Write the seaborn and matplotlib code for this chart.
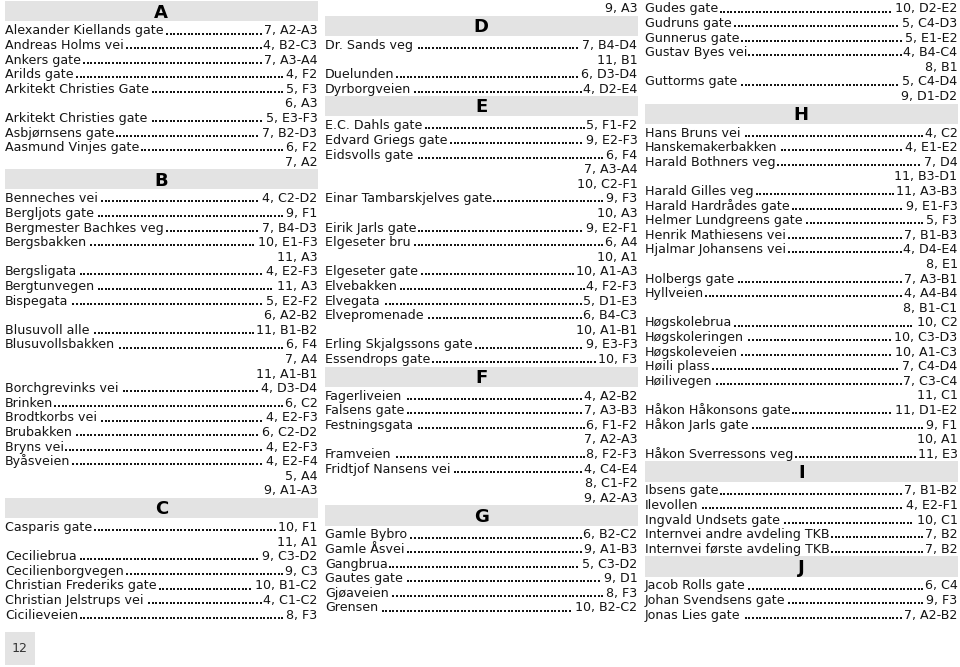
import numpy as np
import pandas as pd
import matplotlib
matplotlib.use("Agg")
import matplotlib.pyplot as plt
import seaborn as sns


# street index data, one pair of lists per letter
A_NAMES = ["Alexander Kiellands gate", "Andreas Holms vei", "Ankers gate", "Arilds gate",
           "Arkitekt Christies Gate", "Arkitekt Christies gate", "Asbjørnsens gate",
           "Aasmund Vinjes gate"]
A_REFS = [["7, A2-A3"], ["4, B2-C3"], ["7, A3-A4"], ["4, F2"], ["5, F3", "6, A3"],
          ["5, E3-F3"], ["7, B2-D3"], ["6, F2", "7, A2"]]

B_NAMES = ["Benneches vei", "Bergljots gate", "Bergmester Bachkes veg", "Bergsbakken",
           "Bergsligata", "Bergtunvegen", "Bispegata", "Blusuvoll alle", "Blusuvollsbakken",
           "Borchgrevinks vei", "Brinken", "Brodtkorbs vei", "Brubakken", "Bryns vei",
           "Byåsveien"]
B_REFS = [["4, C2-D2"], ["9, F1"], ["7, B4-D3"], ["10, E1-F3", "11, A3"], ["4, E2-F3"],
          ["11, A3"], ["5, E2-F2", "6, A2-B2"], ["11, B1-B2"], ["6, F4", "7, A4", "11, A1-B1"],
          ["4, D3-D4"], ["6, C2"], ["4, E2-F3"], ["6, C2-D2"], ["4, E2-F3"],
          ["4, E2-F4", "5, A4", "9, A1-A3"]]

C_NAMES = ["Casparis gate", "Ceciliebrua", "Cecilienborgvegen", "Christian Frederiks gate",
           "Christian Jelstrups vei", "Cicilieveien"]
C_REFS = [["10, F1", "11, A1"], ["9, C3-D2"], ["9, C3"], ["10, B1-C2"], ["4, C1-C2"],
          ["8, F3", "9, A3"]]

D_NAMES = ["Dr. Sands veg", "Duelunden", "Dyrborgveien"]
D_REFS = [["7, B4-D4", "11, B1"], ["6, D3-D4"], ["4, D2-E4"]]

E_NAMES = ["E.C. Dahls gate", "Edvard Griegs gate", "Eidsvolls gate", "Einar Tambarskjelves gate",
           "Eirik Jarls gate", "Elgeseter bru", "Elgeseter gate", "Elvebakken", "Elvegata",
           "Elvepromenade", "Erling Skjalgssons gate", "Essendrops gate"]
E_REFS = [["5, F1-F2"], ["9, E2-F3"], ["6, F4", "7, A3-A4", "10, C2-F1"], ["9, F3", "10, A3"],
          ["9, E2-F1"], ["6, A4", "10, A1"], ["10, A1-A3"], ["4, F2-F3"], ["5, D1-E3"],
          ["6, B4-C3", "10, A1-B1"], ["9, E3-F3"], ["10, F3"]]

F_NAMES = ["Fagerliveien", "Falsens gate", "Festningsgata", "Framveien", "Fridtjof Nansens vei"]
F_REFS = [["4, A2-B2"], ["7, A3-B3"], ["6, F1-F2", "7, A2-A3"], ["8, F2-F3"],
          ["4, C4-E4", "8, C1-F2", "9, A2-A3"]]

G_NAMES = ["Gamle Bybro", "Gamle Åsvei", "Gangbrua", "Gautes gate", "Gjøaveien", "Grensen",
           "Gudes gate", "Gudruns gate", "Gunnerus gate", "Gustav Byes vei", "Guttorms gate"]
G_REFS = [["6, B2-C2"], ["9, A1-B3"], ["5, C3-D2"], ["9, D1"], ["8, F3"], ["10, B2-C2"],
          ["10, D2-E2"], ["5, C4-D3"], ["5, E1-E2"], ["4, B4-C4", "8, B1"], ["5, C4-D4", "9, D1-D2"]]

H_NAMES = ["Hans Bruns vei", "Hanskemakerbakken", "Harald Bothners veg", "Harald Gilles veg",
           "Harald Hardrådes gate", "Helmer Lundgreens gate", "Henrik Mathiesens vei",
           "Hjalmar Johansens vei", "Holbergs gate", "Hyllveien", "Høgskolebrua",
           "Høgskoleringen", "Høgskoleveien", "Høili plass", "Høilivegen",
           "Håkon Håkonsons gate", "Håkon Jarls gate", "Håkon Sverressons veg"]
H_REFS = [["4, C2"], ["4, E1-E2"], ["7, D4", "11, B3-D1"], ["11, A3-B3"], ["9, E1-F3"],
          ["5, F3"], ["7, B1-B3"], ["4, D4-E4", "8, E1"], ["7, A3-B1"], ["4, A4-B4", "8, B1-C1"],
          ["10, C2"], ["10, C3-D3"], ["10, A1-C3"], ["7, C4-D4"], ["7, C3-C4", "11, C1"],
          ["11, D1-E2"], ["9, F1", "10, A1"], ["11, E3"]]

I_NAMES = ["Ibsens gate", "Ilevollen", "Ingvald Undsets gate", "Internvei andre avdeling TKB",
           "Internvei første avdeling TKB"]
I_REFS = [["7, B1-B2"], ["4, E2-F1"], ["10, C1"], ["7, B2"], ["7, B2"]]

J_NAMES = ["Jacob Rolls gate", "Johan Svendsens gate", "Jonas Lies gate"]
J_REFS = [["6, C4"], ["9, F3"], ["7, A2-B2"]]

LETTERS = ["A", "B", "C", "D", "E", "F", "G", "H", "I", "J"]
PAGE_NUMBER = "12"


# layout
PITCH = 14.6
HEAD_H = 22.0
COL_W = 320
COL_LEFT = 5
COL_RIGHT = 317.5
COL_BOTTOM = 624
DOT_PITCH = 3.6
TEXT_COLOR = "#141414"
BAR_COLOR = "#e3e3e3"
FONT_SIZE = 9.1

sections = list(zip(LETTERS,
                    [A_NAMES, B_NAMES, C_NAMES, D_NAMES, E_NAMES, F_NAMES, G_NAMES, H_NAMES, I_NAMES, J_NAMES],
                    [A_REFS, B_REFS, C_REFS, D_REFS, E_REFS, F_REFS, G_REFS, H_REFS, I_REFS, J_REFS]))

lines = []
for letter, names, refs in sections:
    lines.append(("head", letter, None))
    for name, ref in zip(names, refs):
        lines.append(("entry", name, ref[0]))
        for extra in ref[1:]:
            lines.append(("cont", None, extra))

sns.set_theme(style="white")
plt.rcParams["font.family"] = ["DejaVu Sans"]

fig = plt.figure(figsize=(9.6, 6.67), dpi=100)
ax = fig.add_axes([0, 0, 1, 1])
ax.set_xlim(0, 960)
ax.set_ylim(667, 0)
ax.axis("off")
renderer = fig.canvas.get_renderer()

bars = []
dots = []
col, cursor = 0, 0.5
for kind, name, ref in lines:
    h = HEAD_H if kind == "head" else PITCH
    if cursor + h > COL_BOTTOM:
        col += 1
        cursor = 0.5
    left = COL_LEFT + col * COL_W
    right = COL_RIGHT + col * COL_W
    if kind == "head":
        bars.append((left, right, cursor + 0.8, cursor + 21.0))
        ax.text((left + right) / 2, cursor + 17.0, name, ha="center", va="baseline",
                fontsize=13, fontweight="bold", color="black")
    else:
        base = cursor + 11.9
        rt = ax.text(right, base, ref, ha="right", va="baseline", fontsize=FONT_SIZE, color=TEXT_COLOR)
        if kind == "entry":
            nt = ax.text(left, base, name, ha="left", va="baseline", fontsize=FONT_SIZE, color=TEXT_COLOR)
            x0 = nt.get_window_extent(renderer).x1
            x1 = rt.get_window_extent(renderer).x0
            grid = left + np.arange(0, 100) * DOT_PITCH
            for gx in grid[(grid > x0 + 2.0) & (grid < x1 - 2.0)]:
                dots.append((gx, base - 0.9))
    cursor += h

for left, right, top, bottom in bars:
    ax.add_patch(plt.Rectangle((left, top), right - left + 0.5, bottom - top,
                               facecolor=BAR_COLOR, edgecolor="none", zorder=0))

# page number box
ax.add_patch(plt.Rectangle((5, 632), 30, 33, facecolor=BAR_COLOR, edgecolor="none", zorder=0))
ax.text(20, 648, PAGE_NUMBER, ha="center", va="center", fontsize=FONT_SIZE, color="#333333")

dots_df = pd.DataFrame(dots, columns=["x", "y"])
sns.scatterplot(data=dots_df, x="x", y="y", ax=ax, marker="s", s=2.0, color=TEXT_COLOR,
                linewidth=0, legend=False)
ax.set_xlim(0, 960)
ax.set_ylim(667, 0)
ax.axis("off")

fig.savefig("out.png", dpi=100, facecolor="white")
